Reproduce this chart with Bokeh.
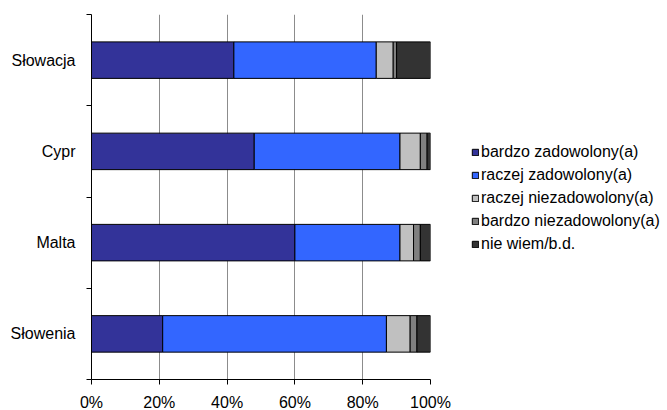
from bokeh.plotting import figure
from bokeh.layouts import row
from bokeh.models import Range1d, FixedTicker, NumeralTickFormatter, Legend, LegendItem, ColumnDataSource
from bokeh.embed import file_html
from bokeh.resources import INLINE

countries = ["Słowenia", "Malta", "Cypr", "Słowacja"]
series = ["bardzo zadowolony(a)", "raczej zadowolony(a)", "raczej niezadowolony(a)",
          "bardzo niezadowolony(a)", "nie wiem/b.d."]
bardzo_zad = [21, 60, 48, 42]
raczej_zad = [66, 31, 43, 42]
raczej_niezad = [7, 4, 6, 5]
bardzo_niezad = [2, 2, 2, 1]
nie_wiem = [4, 3, 1, 10]
colors = ["#333399", "#3366FF", "#C0C0C0", "#808080", "#333333"]
x_ticks = [0, 0.2, 0.4, 0.6, 0.8, 1.0]

FONT = "Liberation Sans"
FS = "16px"

vals = [bardzo_zad, raczej_zad, raczej_niezad, bardzo_niezad, nie_wiem]
ypos = [i + 0.5 for i in range(len(countries))]
data = {"y": ypos}
keys = []
for i, v in enumerate(vals):
    k = "s%d" % i
    keys.append(k)
    data[k] = [x / 100.0 for x in v]
src = ColumnDataSource(data)

p = figure(frame_width=339, frame_height=365, output_backend="svg", toolbar_location=None,
           x_range=Range1d(0, 1), y_range=Range1d(0, len(countries)),
           min_border_left=91, min_border_right=30, min_border_top=14, min_border_bottom=31)
p.outline_line_color = None
p.background_fill_color = "white"
p.border_fill_color = "white"

rs = p.hbar_stack(keys, y="y", height=0.4, color=colors, line_color="black",
                  line_width=1, source=src)

# x axis
p.xaxis.ticker = FixedTicker(ticks=x_ticks)
p.xaxis.formatter = NumeralTickFormatter(format="0%")
p.xaxis.major_tick_out = 5
p.xaxis.major_tick_in = 0
p.xaxis.minor_tick_line_color = None
p.xaxis.major_label_standoff = 9
p.xaxis.major_label_text_font = FONT
p.xaxis.major_label_text_font_size = FS
p.xaxis.major_label_text_color = "black"
p.xaxis.axis_line_color = "black"
p.xaxis.major_tick_line_color = "black"

# y axis
p.yaxis.ticker = FixedTicker(ticks=ypos, minor_ticks=list(range(len(countries) + 1)))
p.yaxis.major_label_overrides = {y: c for y, c in zip(ypos, countries)}
p.yaxis.major_tick_line_color = None
p.yaxis.major_tick_out = 0
p.yaxis.major_tick_in = 0
p.yaxis.minor_tick_out = 5
p.yaxis.minor_tick_in = 0
p.yaxis.minor_tick_line_color = "black"
p.yaxis.major_label_standoff = 11
p.yaxis.major_label_text_font = FONT
p.yaxis.major_label_text_font_size = FS
p.yaxis.major_label_text_color = "black"
p.yaxis.axis_line_color = "black"

p.xgrid.grid_line_color = "#8c8c8c"
p.ygrid.grid_line_color = None

# legend panel (swatch renderers carry no drawable data)
nan = float("nan")
p2 = figure(width=207, height=410, output_backend="svg", toolbar_location=None,
            x_range=Range1d(0, 1), y_range=Range1d(0, 1),
            x_axis_location=None, y_axis_location=None, min_border=0)
p2.outline_line_color = None
p2.xgrid.grid_line_color = None
p2.ygrid.grid_line_color = None
dummy = [p2.hbar(y=[nan], left=[nan], right=[nan], height=0.4, color=c,
                 line_color="black", line_width=1)
         for c in colors]
items = [LegendItem(label=s, renderers=[r]) for s, r in zip(series, dummy)]
legend = Legend(items=items, location=(11, 123), orientation="vertical",
                padding=0, margin=0, spacing=5, glyph_width=8, glyph_height=8,
                label_height=16, label_standoff=2,
                label_text_font=FONT, label_text_font_size=FS,
                label_text_color="black",
                border_line_color=None, background_fill_alpha=0)
p2.add_layout(legend, "center")

layout = row(p, p2)
open("out.html", "w").write(file_html(layout, INLINE))
